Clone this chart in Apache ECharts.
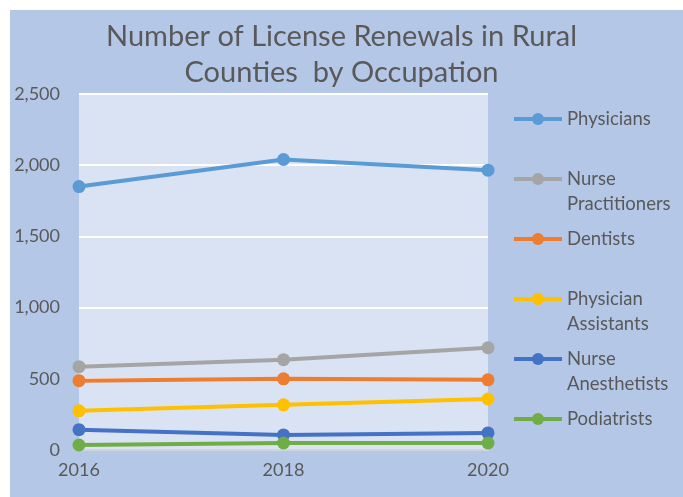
<!DOCTYPE html>
<html><head><meta charset="utf-8">
<script src="https://cdn.jsdelivr.net/npm/echarts@6/dist/echarts.min.js"></script>
<style>html,body{margin:0;padding:0;background:#fff}#c{width:683px;height:497px}</style>
</head><body><div id="c"></div>
<script>
const years = ['2016', '2018', '2020'];
const seriesNames = ['Physicians', 'Nurse\nPractitioners', 'Dentists', 'Physician\nAssistants', 'Nurse\nAnesthetists', 'Podiatrists'];
const physicians = [1850, 2040, 1965];
const nursePractitioners = [585, 634, 718];
const dentists = [487, 500, 493];
const physicianAssistants = [275, 317, 358];
const nurseAnesthetists = [143, 106, 120];
const podiatrists = [35, 49, 49];
const yTicks = [0, 500, 1000, 1500, 2000, 2500];
const colors = ['#5b9bd5', '#a5a5a5', '#ed7d31', '#ffc000', '#4472c4', '#70ad47'];
const values = [physicians, nursePractitioners, dentists, physicianAssistants, nurseAnesthetists, podiatrists];

const FONT = 'Lato';
const TXT = '#595959';
const legendTops = [119, 179, 239, 299, 359, 419];
const LH = 25;

const chart = echarts.init(document.getElementById('c'));
const legends = seriesNames.map((n, i) => {
  const multi = n.indexOf('\n') >= 0;
  return {
    data: [n], orient: 'vertical', left: 512, top: legendTops[i] - (multi ? 1.5 * LH : 0.5 * LH),
    itemWidth: 48, itemHeight: 15, padding: 0,
    lineStyle: { width: 4 },
    formatter: name => (name.indexOf('\n') >= 0 ? ' \n' + name : name),
    textStyle: { color: TXT, fontFamily: FONT, fontSize: 18.5, lineHeight: LH },
    selectedMode: false
  };
});
chart.setOption({
  animation: false,
  graphic: [{ type: 'rect', shape: { x: 10, y: 10, width: 673, height: 487 }, style: { fill: '#b4c7e7' }, z: -10, silent: true }],
  title: {
    text: 'Number of License Renewals in Rural\nCounties  by Occupation',
    left: 'center', top: 14,
    textStyle: { color: TXT, fontFamily: FONT, fontSize: 29, fontWeight: 'normal', lineHeight: 36 }
  },
  legend: legends,
  grid: { left: 79, right: 195, top: 94, bottom: 47, show: true, backgroundColor: '#dae3f3', borderWidth: 0 },
  xAxis: {
    type: 'category', data: years, boundaryGap: false,
    axisLine: { lineStyle: { color: '#d0d5dd', width: 2 } }, axisTick: { show: false },
    axisLabel: { color: TXT, fontFamily: FONT, fontSize: 18, margin: 11 }
  },
  yAxis: {
    type: 'value', min: yTicks[0], max: yTicks[yTicks.length - 1], interval: 500,
    axisLine: { show: false }, axisTick: { show: false },
    splitLine: { lineStyle: { color: '#ffffff', width: 2 } },
    axisLabel: { color: TXT, fontFamily: FONT, fontSize: 18, margin: 19,
      formatter: v => v.toLocaleString('en-US') }
  },
  series: seriesNames.map((n, i) => ({
    name: n, type: 'line', data: values[i],
    symbol: 'circle', symbolSize: 13,
    lineStyle: { color: colors[i], width: 4 },
    itemStyle: { color: colors[i] }
  }))
});
</script></body></html>
